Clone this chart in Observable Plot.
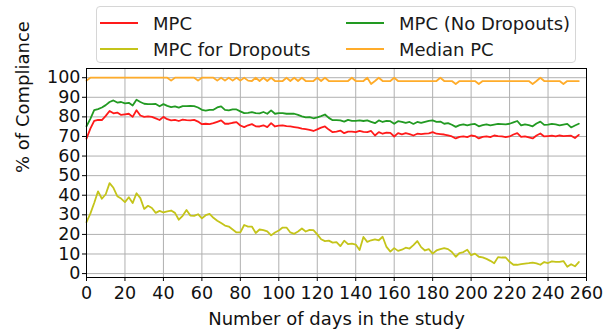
<!DOCTYPE html>
<html>
<head>
<meta charset="utf-8">
<script src="https://cdn.jsdelivr.net/npm/d3@7"></script>
<script src="https://cdn.jsdelivr.net/npm/@observablehq/plot@0.6"></script>
<style>
  html, body { margin: 0; padding: 0; background: #fff; }
  #wrap { position: relative; width: 613px; height: 329px; font-family: "DejaVu Sans", sans-serif; }
  #legend { position: absolute; left: 96px; top: 6px; width: 480px; height: 57px; border: 1px solid #d6d6d6; border-radius: 4px; background: #fff; box-sizing: border-box; }
  .item { position: absolute; height: 22px; display: flex; align-items: center; font-size: 18px; color: #1a1a1a; white-space: nowrap; }
  .swatch { width: 38px; height: 2px; margin-right: 15px; }
</style>
</head>
<body>
<div id="wrap">
  <div id="chart"></div>
  <div id="legend"></div>
</div>
<script>
const days = [0,2,4,6,8,10,12,14,16,18,20,22,24,26,28,30,32,34,36,38,40,42,44,46,48,50,52,54,56,58,60,62,64,66,68,70,72,74,76,78,80,82,84,86,88,90,92,94,96,98,100,102,104,106,108,110,112,114,116,118,120,122,124,126,128,130,132,134,136,138,140,142,144,146,148,150,152,154,156,158,160,162,164,166,168,170,172,174,176,178,180,182,184,186,188,190,192,194,196,198,200,202,204,206,208,210,212,214,216,218,220,222,224,226,228,230,232,234,236,238,240,242,244,246,248,250,252,254,256];

const mpc = [68.9,74,78,78.5,78.4,80.5,83,81.8,82.2,81,81.3,81.6,80,83.4,80.7,80,80.3,80,79.2,78.4,80,78.8,78.2,78.5,77.9,78.6,78.3,78.2,78.5,77.6,76.3,76.5,76.3,76.8,77.5,78.2,76.5,76.5,77,77.3,75.6,74.8,75.7,76.3,75.2,75.1,75.7,74.8,76.8,75.1,75.5,75.7,75.3,75.1,74.8,74.5,74,73.7,73.4,72.8,73.6,74.5,75.1,73.5,72.2,72.5,73,71.7,72.5,72.5,72.2,72.8,72.3,72.2,72.8,70.5,72.2,71.4,72,71.8,70,71.7,71.1,71.7,71.2,70.5,71.4,71.2,71.4,71.6,72.2,71.4,71.2,71,70.5,70,69,69.8,70,69.7,70.5,70.2,69,69.8,70,69.7,70.5,70.2,70,69.7,70,71,71.7,69.8,70,69.5,69,70.5,71.5,70,70.2,70.4,70,70.5,70.2,70.3,70.4,69.2,70.8];

const mpcNoDropouts = [75.2,79,83.4,84,84.8,86,87.6,88.4,87.3,87.6,86.9,87.2,85.8,88.8,87.6,86.7,86.5,86.5,86.6,85.4,86.5,85.6,85,85.4,84.7,85.5,85.5,85.6,85.5,84.8,83.6,83.2,83.6,83.6,84.8,85.4,83.6,83.3,83.8,83.8,82.8,81.9,82,82.4,81.9,81.8,82.5,81.6,83.3,81.6,81.9,81.9,81.6,81.6,81.6,81,80.3,79.7,79.9,79.3,79.8,80.4,81.2,79.5,78.3,78.3,78.2,77.6,78.5,78,78,78.2,77.9,78.2,77.5,76.8,78.2,77.4,78,77.8,76.5,77.8,77.5,76.9,77.4,76.4,77.4,76.9,77.5,78,78.2,77.5,77.6,76.5,76.8,76,74.9,75.8,76.2,75.7,76.2,76.4,75.2,75.8,76.2,75.7,76.1,76.4,76.3,76.2,76.5,77.2,77.9,75.7,76.2,75.8,75.2,76.6,77.6,75.9,76,76.4,76.2,75.7,76.1,76.4,74.6,75.6,76.5];

const mpcDropouts = [26.3,30.6,36,42,38.2,40.5,46.2,43.8,39.5,38.3,36.5,39,36,41,38.5,33,34.6,33.5,31,32,31.2,31.8,32.2,31,27.5,29.5,32.5,29.6,29.5,30.3,28.2,29.8,30.5,28.5,27,25.8,24.5,24,22.5,21,21,24.8,24,24,20.7,22.5,22.2,21.5,19.5,21,22,23.5,23.5,21,20.3,21.5,23,21.5,22.3,22.2,20,17.5,16.6,16.8,15.8,16.1,14,16.8,15,15.3,14.8,12,18.7,16.2,17,17.5,17,18.8,13.6,11.2,13,11.6,12.2,13.2,12.8,14.5,16.6,13.5,11.8,12.5,10.2,11.8,12.5,13,12.5,11,8.6,10.5,11,12.2,9.4,10.2,8.6,8.3,7.5,6.5,5.3,8.4,8.2,8.2,6,4.5,4.5,4.8,5.1,5.3,5.6,5.2,4.5,5.9,5.4,6.2,6,6,6.4,3.5,4.8,3.7,5.9];

const medianPC = [98.5,100,100,100,100,100,100,100,100,100,100,100,100,100,100,100,100,100,100,100,100,100,98.5,100,100,100,100,100,100,98.5,100,100,100,100,98.5,100,98.5,100,98.5,100,98.5,100,98.5,98.3,100,98.3,100,98.3,100,98.3,98.3,98.3,100,98.3,100,98.3,100,98.3,98.3,98.3,100,98.3,100,98.3,98.3,98.3,98.3,98.3,98.3,100,98.3,98.3,98.3,100,96.8,98.3,100,98.3,98.3,98.3,100,98.3,98.3,98.3,98.3,98.3,98.3,98.3,98.3,98.3,98.3,98.3,100,98.3,98.3,98.3,96.8,98.3,98.3,98.3,98.3,98.3,96.8,98.3,98.3,98.3,98.3,98.3,98.3,98.3,98.3,98.3,98.3,98.3,98.3,98.3,96.8,98.3,100,98.3,98.3,98.3,98.3,98.3,96.8,98.3,98.3,98.3,98.3,98.3,98.3];

const seriesNames = ["MPC", "MPC for Dropouts", "MPC (No Dropouts)", "Median PC"];
const seriesColors = ["#ff1a1a", "#c4c41a", "#229a22", "#ffac2a"];
const seriesValues = [mpc, mpcDropouts, mpcNoDropouts, medianPC];

const xTicks = [0,20,40,60,80,100,120,140,160,180,200,220,240,260];
const yTicks = [0,10,20,30,40,50,60,70,80,90,100];
const xTitle = "Number of days in the study";
const yTitle = "% of Compliance";

const lines = seriesValues.map((vals, k) =>
  Plot.line(days, {x: d => d, y: (d, i) => vals[i], stroke: seriesColors[k], strokeWidth: 1.8, curve: "linear"})
);

const chart = Plot.plot({
  width: 613,
  height: 329,
  marginLeft: 86,
  marginRight: 27,
  marginTop: 68,
  marginBottom: 52,
  style: {fontFamily: "DejaVu Sans, sans-serif", background: "#fff", color: "#111"},
  x: {domain: [0, 260]},
  y: {domain: [-2, 104.7]},
  marks: [
    Plot.gridX(xTicks, {stroke: "#b0b0b0", strokeOpacity: 1, strokeWidth: 1}),
    Plot.gridY(yTicks, {stroke: "#b0b0b0", strokeOpacity: 1, strokeWidth: 1}),
    ...lines,
    Plot.frame({stroke: "#000", strokeWidth: 1}),
    Plot.axisX(xTicks, {tickSize: 4, tickPadding: 5, fontSize: 17.5, label: null, stroke: "#000"}),
    Plot.axisY(yTicks, {tickSize: 4, tickPadding: 2, fontSize: 17.5, label: null, stroke: "#000"}),
    Plot.text([xTitle], {frameAnchor: "bottom", dy: 42, fontSize: 18, lineAnchor: "middle", fill: "#111"}),
    Plot.text([yTitle], {frameAnchor: "left", dx: -63, rotate: -90, fontSize: 18, lineAnchor: "middle", fill: "#111"})
  ]
});
document.getElementById("chart").appendChild(chart);

// legend (two columns, column-major like matplotlib)
const legend = document.getElementById("legend");
const pos = [[3, 5], [3, 31], [249, 5], [249, 31]];
seriesNames.forEach((name, k) => {
  const item = document.createElement("div");
  item.className = "item";
  item.style.left = pos[k][0] + "px";
  item.style.top = pos[k][1] + "px";
  const sw = document.createElement("div");
  sw.className = "swatch";
  sw.style.background = seriesColors[k];
  const t = document.createElement("span");
  t.textContent = name;
  item.appendChild(sw);
  item.appendChild(t);
  legend.appendChild(item);
});
</script>
</body>
</html>
